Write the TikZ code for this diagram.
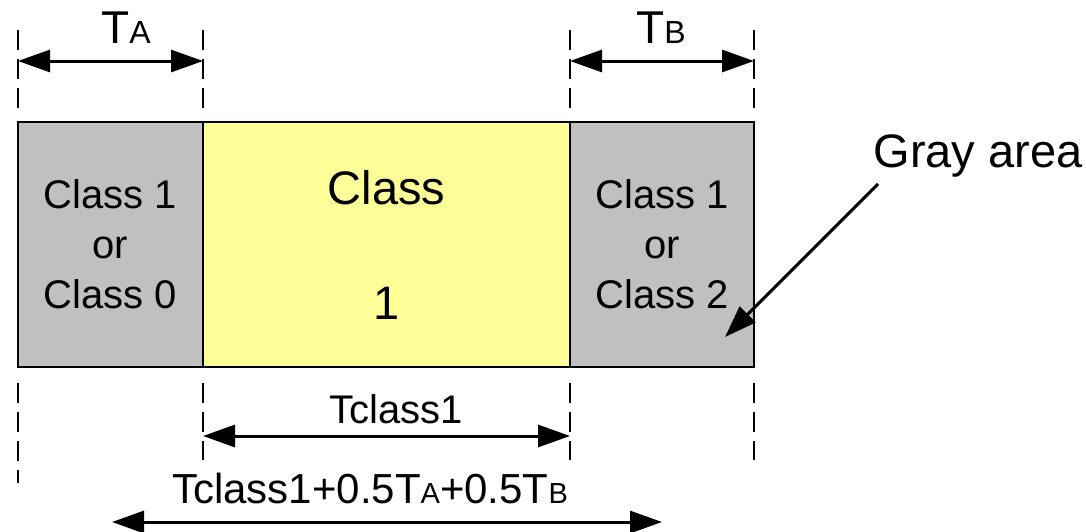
\documentclass[tikz,border=0pt]{standalone}
\usepackage{fontspec}
\setmainfont{Liberation Sans}
\usetikzlibrary{arrows.meta}
\definecolor{grayfill}{HTML}{C0C0C0}
\definecolor{yellowfill}{HTML}{FFFF99}
\newcommand\smallletter[1]{{\fontsize{14.5}{14.5}\selectfont #1}}
\newcommand\topletter[1]{{\fontsize{16}{16}\selectfont #1}}
\begin{document}
\begin{tikzpicture}[x=0.5pt,y=-0.5pt,
  boxstyle/.style={draw=black,line width=1.3pt,inner sep=0pt,align=center,minimum height=122.5pt},
  grayside/.style={boxstyle,fill=grayfill,font=\fontsize{20}{25}\selectfont},
  dashline/.style={line width=1.3pt,dash pattern=on 10pt off 4.5pt},
  dimarrow/.style={line width=1.5pt,{Triangle[length=16pt,width=11pt]}-{Triangle[length=16pt,width=11pt]}},
  pointer/.style={line width=1.5pt,-{Triangle[length=16pt,width=11pt]}},
  biglabel/.style={anchor=base,inner sep=0pt,font=\fontsize{23.5}{23.5}\selectfont},
  toplabel/.style={anchor=base,inner sep=0pt,font=\fontsize{23}{23}\selectfont},
  midlabel/.style={anchor=base,inner sep=0pt,font=\fontsize{20}{20}\selectfont},
  sumlabel/.style={anchor=base,inner sep=0pt,font=\fontsize{21}{21}\selectfont}]
\useasboundingbox (0,0) rectangle (1086,531);

% boxes
\node[grayside,minimum width=92.5pt] (gA) at (110.5,244.5) {Class 1\\or\\Class 0};
\node[boxstyle,fill=yellowfill,minimum width=183.5pt,font=\fontsize{23.5}{57.5}\selectfont] (yC) at (386.5,244.5) {Class\\1};
\node[grayside,minimum width=92pt] (gB) at (662,244.5) {Class 1\\or\\Class 2};

% dashed guide lines (top)
\coordinate (u1a) at (18,30);  \coordinate (u1b) at (18,108);
\coordinate (u2a) at (203,30); \coordinate (u2b) at (203,108);
\coordinate (u3a) at (570,30); \coordinate (u3b) at (570,108);
\coordinate (u4a) at (754,30); \coordinate (u4b) at (754,108);
\draw[dashline] (u1a) -- (u1b);
\draw[dashline] (u2a) -- (u2b);
\draw[dashline] (u3a) -- (u3b);
\draw[dashline] (u4a) -- (u4b);

% dashed guide lines (bottom)
\coordinate (l1a) at (18,383);  \coordinate (l1b) at (18,483);
\coordinate (l2a) at (203,383); \coordinate (l2b) at (203,460);
\coordinate (l3a) at (570,383); \coordinate (l3b) at (570,460);
\coordinate (l4a) at (754,383); \coordinate (l4b) at (754,460);
\draw[dashline] (l1a) -- (l1b);
\draw[dashline] (l2a) -- (l2b);
\draw[dashline] (l3a) -- (l3b);
\draw[dashline] (l4a) -- (l4b);

% dimension arrows
\coordinate (taL) at (18,61);  \coordinate (taR) at (203,61);
\coordinate (tbL) at (570,61); \coordinate (tbR) at (754,61);
\coordinate (tcL) at (203,436); \coordinate (tcR) at (570,436);
\coordinate (ttL) at (112,522); \coordinate (ttR) at (662,522);
\draw[dimarrow] (taL) -- (taR);
\draw[dimarrow] (tbL) -- (tbR);
\draw[dimarrow] (tcL) -- (tcR);
\draw[dimarrow] (ttL) -- (ttR);

% labels
\node[toplabel] (lTA) at (126,43) {T\topletter{A}};
\node[toplabel] (lTB) at (661,43) {T\topletter{B}};
\node[midlabel] (lTc) at (396,423) {Tclass1};
\node[sumlabel] (lTt) at (370,503) {Tclass1+0.5T\smallletter{A}+0.5T\smallletter{B}};
\node[biglabel] (lGray) at (978,167) {Gray area};

% pointer to gray area
\coordinate (pS) at (878,184);
\coordinate (pE) at (725,337);
\draw[pointer] (pS) -- (pE);
\end{tikzpicture}
\end{document}
